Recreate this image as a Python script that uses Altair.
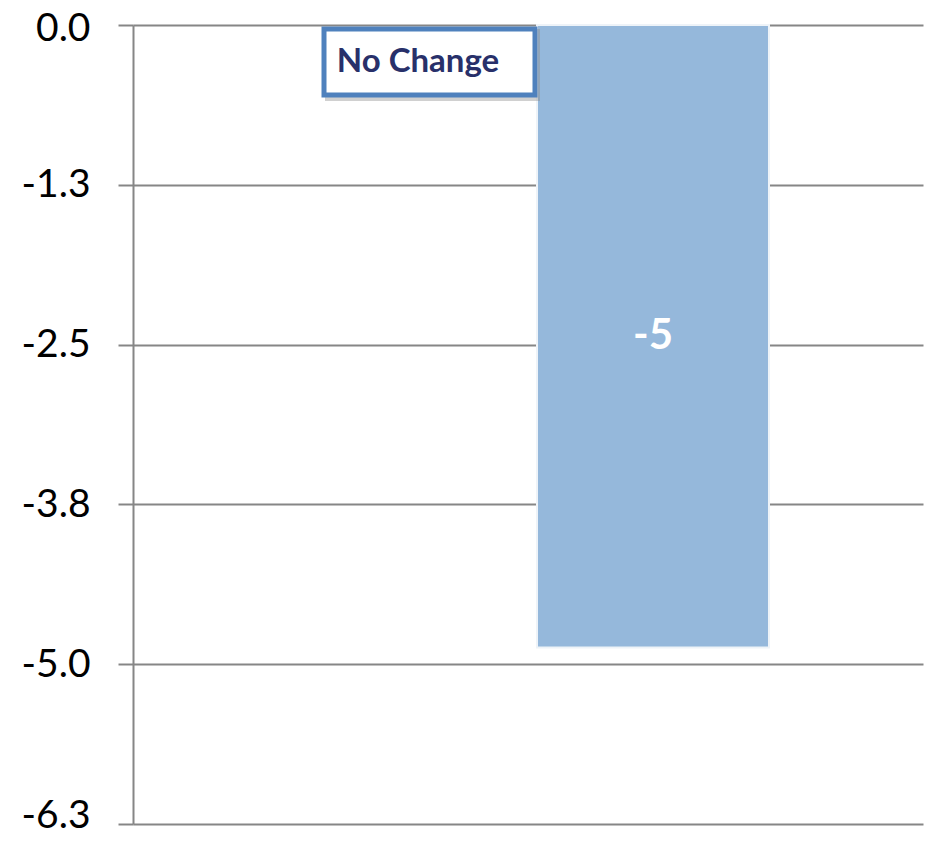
import altair as alt
import pandas as pd

# ---- data ----
categories = ["Change"]
values = [-4.87]
value_labels = ["-5"]
y_ticks = [0.0, -1.25, -2.5, -3.75, -5.0, -6.25]
note_text = ["No Change"]

df = pd.DataFrame({"category": categories, "value": values, "label": value_labels})
note_df = pd.DataFrame({"note": note_text})

GRID = "#868686"

x_scale = alt.Scale(paddingInner=0.1685, paddingOuter=1, align=0.724)
y_scale = alt.Scale(domain=[-6.25, 0], nice=False)

base = alt.Chart(df)

bars = base.mark_bar(color="#95b8db", stroke="#eef3f8", strokeWidth=2).encode(
    x=alt.X("category:N", scale=x_scale, axis=None),
    y=alt.Y(
        "value:Q",
        scale=y_scale,
        axis=alt.Axis(
            values=y_ticks,
            labelExpr="replace(format(datum.value, '.1f'), '\u2212', '-')",
            title=None,
            grid=True,
            gridColor=GRID,
            gridWidth=2,
            gridOpacity=1,
            domainColor=GRID,
            domainWidth=2,
            tickColor=GRID,
            tickWidth=2,
            tickSize=15,
            labelFont="Lato",
            labelFontSize=39,
            labelColor="#000000",
            labelPadding=28,
            labelOffset={
                "condition": [
                    {"test": "datum.value < -6", "value": -9},
                    {"test": "datum.value > -0.1", "value": 3},
                ],
                "value": 0,
            },
        ),
    ),
)

bar_text = base.transform_calculate(mid="datum.value / 2").mark_text(
    font="Lato", fontWeight="bold", fontSize=42, color="white",
    align="center", baseline="middle"
).encode(
    x=alt.X("category:N", scale=x_scale),
    y=alt.Y("mid:Q", scale=y_scale),
    text="label:N",
)

note_base = alt.Chart(note_df)
note_shadow = note_base.mark_rect(fill="#8a8a8a", opacity=0.4).encode(
    x=alt.value(192), x2=alt.value(407), y=alt.value(4), y2=alt.value(76)
)
note_box = note_base.mark_rect(fill="white", stroke="#4f81bd", strokeWidth=5).encode(
    x=alt.value(191), x2=alt.value(402), y=alt.value(4), y2=alt.value(70)
)
note_label = note_base.mark_text(
    font="Lato", fontWeight="bold", fontSize=33, color="#28306a",
    align="center", baseline="alphabetic"
).encode(x=alt.value(285), y=alt.value(47), text="note:N")

chart = alt.layer(bars, bar_text, note_shadow, note_box, note_label).properties(
    width=790,
    height=799,
    autosize=alt.AutoSizeParams(type="none"),
    padding={"left": 125, "top": 17, "right": 1, "bottom": 10},
    background="white",
).configure_view(stroke=None)

chart.save("out.html", embed_options={"renderer": "svg", "actions": False})
